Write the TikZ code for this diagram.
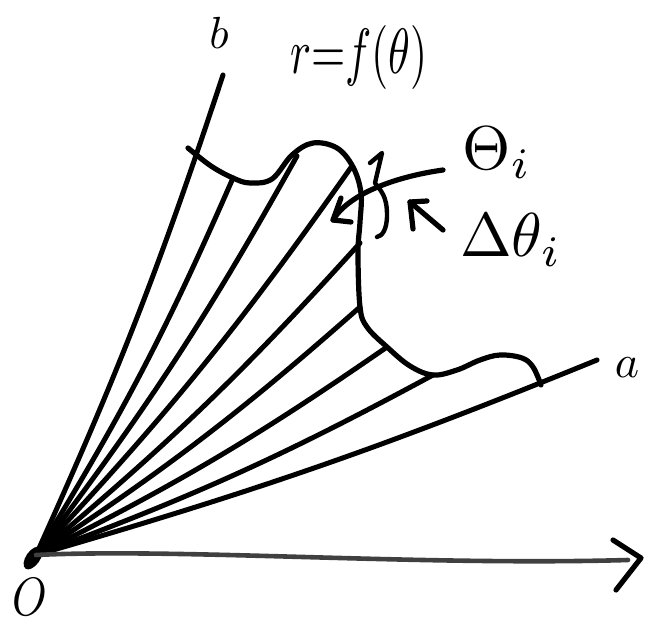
\documentclass[tikz,border=0pt]{standalone}
\usepackage{graphicx}
\begin{document}
\begin{tikzpicture}[x=1pt,y=-1pt,line cap=round,line join=round,
  ink/.style={line width=5.2pt},
  fan/.style={line width=5pt},
  axisline/.style={line width=4.6pt,black!75},
  lbl/.style={inner sep=0pt},
]
\useasboundingbox (0,0) rectangle (652,628);
% origin and ray ends
\coordinate (O) at (36,555);
\coordinate (Bend) at (223,75);
\coordinate (Aend) at (597,360);
\coordinate (P2) at (233,178);
\coordinate (P3) at (297,156);
\coordinate (P4) at (352,166);
\coordinate (P5) at (360,243);
\coordinate (P6) at (360,307);
\coordinate (P7) at (387,347);
\coordinate (P8) at (433,375);
\coordinate (AxE) at (628,560);
% origin blob
\fill[rotate around={-35:(33,558)}] (33,558) ellipse [x radius=7pt, y radius=13pt];
% fan lines
\draw[fan] (O) to[bend right=3] (Bend);
\foreach \p in {P2,P3,P4,P5,P6,P7,P8}
  \draw[fan] (O) to[bend right=4] (\p);
\draw[fan] (O) to[bend right=3] (Aend);
% curve r=f(theta)
\draw[ink] plot[smooth,tension=0.6] coordinates {
 (188,148) (211,166) (233,178) (250,183) (272,179) (292,155) (313,143) (337,148)
 (353,167) (361,193) (360,222) (358,253) (360,307) (367,327) (387,347)
 (410,366) (433,375) (457,370) (480,360) (500,355) (522,358) (533,367) (541,385)};
% horizontal axis
\draw[axisline] (O) .. controls (180,548) and (420,566) .. (AxE);
\draw[ink] (613,540) -- (641,558) -- (616,590);
% brace marking the slice
\draw[ink,line width=4.4pt] (370,163) -- (382,153) .. controls (378,170) .. (375,183)
  .. controls (381,191) and (387,196) .. (387,215) .. controls (387,230) and (382,236) .. (377,237);
% arrow to theta_i
\coordinate (A1s) at (443,170);
\coordinate (A1t) at (333,220);
\draw[ink] (A1s) .. controls (400,176) and (350,192) .. (A1t);
\draw[ink] (341,198) -- (A1t) -- (351,222);
% arrow to Delta theta_i
\coordinate (A2s) at (443,230);
\coordinate (A2t) at (410,202);
\draw[ink] (A2s) -- (A2t);
\draw[ink] (427,201) -- (A2t) -- (413,229);
% labels
\node[lbl] (lb) at (219,33) {\scalebox{4.5}{$b$}};
\node[lbl] (la) at (627,368) {\scalebox{4.6}{$a$}};
\node[lbl] (lr) at (359,58) {\scalebox{4.4}[6.4]{$r{=}f(\theta)$}};
\node[lbl] (lt) at (497,153) {\scalebox{6.2}{$\Theta_i$}};
\node[lbl] (ld) at (511,240) {\scalebox{6.2}{$\Delta\theta_i$}};
\node[lbl] (lo) at (30,597) {\scalebox{4.4}[5.4]{$O$}};
\end{tikzpicture}
\end{document}
